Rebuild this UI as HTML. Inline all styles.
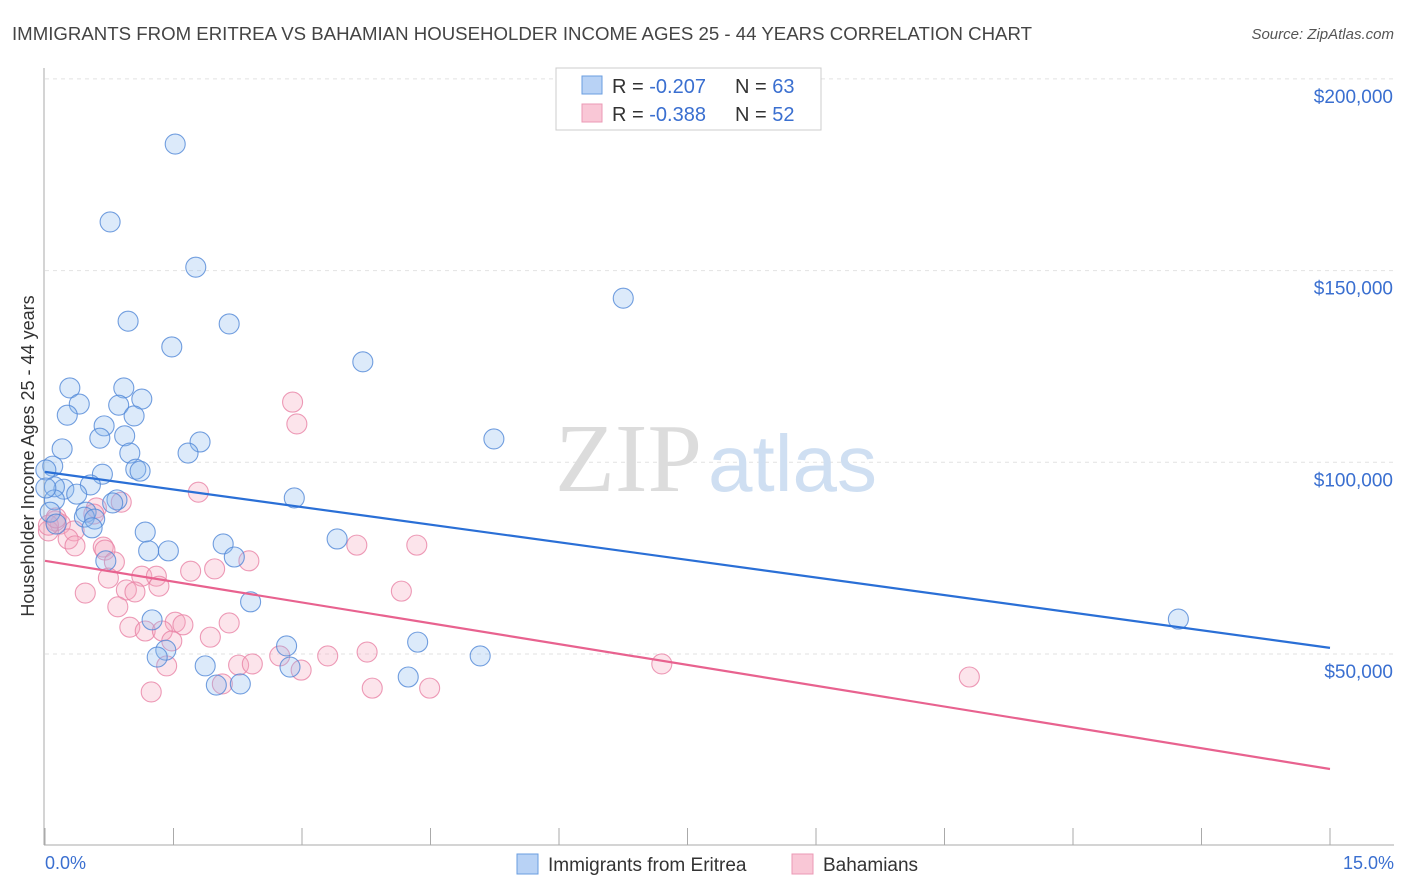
<!DOCTYPE html>
<html><head><meta charset="utf-8"><style>
body{margin:0;background:#fff;font-family:"Liberation Sans",sans-serif;}
svg{display:block}
</style></head><body>
<svg width="1406" height="892" xmlns="http://www.w3.org/2000/svg">
<text x="12" y="40" font-size="18" fill="#444" textLength="1020" lengthAdjust="spacingAndGlyphs">IMMIGRANTS FROM ERITREA VS BAHAMIAN HOUSEHOLDER INCOME AGES 25 - 44 YEARS CORRELATION CHART</text>
<text x="1394" y="39" font-size="15" fill="#555" text-anchor="end" font-style="italic">Source: ZipAtlas.com</text>
<g id="grid"></g>
<text x="555" y="491" font-size="98" fill="#ddd" font-family="Liberation Serif,serif"><tspan fill="#dcdcdc">ZIP</tspan><tspan fill="#cfdff2" font-family="Liberation Sans,sans-serif" font-size="80" dx="6">atlas</tspan></text>
<line x1="44" y1="68" x2="44" y2="845" stroke="#aaa"/>
<line x1="44" y1="845" x2="1394" y2="845" stroke="#aaa"/>
<text transform="translate(34,456) rotate(-90)" font-size="18" fill="#333" text-anchor="middle">Householder Income Ages 25 - 44 years</text>
<text x="45" y="869" font-size="18" fill="#3a6fd0">0.0%</text>
<text x="1394" y="869" font-size="18" fill="#3a6fd0" text-anchor="end">15.0%</text>
<g id="marks"></g>
<g>
<rect x="556" y="68" width="265" height="62" fill="#fff" stroke="#ccc"/>
<rect x="582" y="76" width="20" height="18" fill="#b8d2f5" stroke="#6a9ee0"/>
<rect x="582" y="104" width="20" height="18" fill="#f9c7d6" stroke="#eb9ab5"/>
<text x="612" y="93" font-size="20" fill="#333">R = <tspan fill="#3a6fd0">-0.207</tspan></text>
<text x="735" y="93" font-size="20" fill="#333">N = <tspan fill="#3a6fd0">63</tspan></text>
<text x="612" y="121" font-size="20" fill="#333">R = <tspan fill="#3a6fd0">-0.388</tspan></text>
<text x="735" y="121" font-size="20" fill="#333">N = <tspan fill="#3a6fd0">52</tspan></text>
</g>
<g>
<rect x="517" y="854" width="21" height="20" fill="#b8d2f5" stroke="#6a9ee0"/>
<text x="548" y="871" font-size="19" fill="#333">Immigrants from Eritrea</text>
<rect x="792" y="854" width="21" height="20" fill="#f9c7d6" stroke="#eb9ab5"/>
<text x="823" y="871" font-size="19" fill="#333">Bahamians</text>
</g>
</svg>
<script>
const yTicks=[50000,100000,150000,200000];
const yTickLabels=["$50,000","$100,000","$150,000","$200,000"];
const blueX=[1.52,.76,1.76,6.75,.97,2.15,1.48,3.71,.29,.92,.40,.86,1.13,.26,1.04,.69,.93,.64,5.24,1.81,.20,1.67,.99,.09,1.06,1.11,.67,.22,.53,.11,.37,2.91,.11,.84,.79,.06,.48,.46,.58,.55,1.17,3.41,2.08,1.21,1.44,2.21,.71,2.40,1.25,2.82,4.35,1.41,1.31,5.08,1.87,2.86,4.24,2.00,2.28,13.23,.01,.01,.13];
const blueY=[183.0,162.7,150.9,142.8,136.8,136.1,130.1,126.2,119.4,119.4,115.2,114.9,116.5,112.3,112.1,109.5,106.9,106.3,106.1,105.3,103.5,102.4,102.4,99.0,98.2,97.7,96.9,93.0,94.1,93.6,91.7,90.7,90.2,90.2,89.4,87.0,87.0,85.7,85.2,82.9,81.8,80.0,78.7,76.9,76.9,75.3,74.3,63.6,58.9,52.1,53.1,51.0,49.2,49.5,46.9,46.6,44.0,41.9,42.2,59.1,98.0,93.3,83.9];
const pinkX=[2.89,2.94,1.79,.89,.60,.57,.18,.12,.04,.34,.27,.35,.68,.70,3.64,4.34,.81,2.38,1.98,1.70,.74,1.13,1.30,1.33,4.16,.47,.95,1.05,.85,2.15,1.52,1.61,.99,1.17,1.37,1.48,1.93,2.74,3.30,3.76,2.26,2.42,1.42,2.99,7.20,10.79,1.24,3.82,4.49,2.07,.04,.13];
const pinkY=[115.7,110.0,92.2,89.6,88.1,86.5,83.9,84.7,82.1,82.1,80.0,78.2,77.9,77.1,78.4,78.4,74.0,74.3,72.2,71.6,69.8,70.3,70.3,67.7,66.4,65.9,66.7,66.2,62.3,58.1,58.3,57.6,57.0,56.0,56.0,53.4,54.4,49.5,49.5,50.5,47.1,47.4,46.9,45.8,47.4,44.0,40.1,41.1,41.1,42.2,83.6,85.5];
const blueTrend=[97.5,51.6];
const pinkTrend=[74.3,20.0];
const NS="http://www.w3.org/2000/svg";
function sx(p){return 45+p/15*1285;}
function sy(k){return 654-(k-50)*191.7/50;}
const grid=document.getElementById('grid'),marks=document.getElementById('marks');
function mk(tag,attrs,parent){const e=document.createElementNS(NS,tag);for(const k in attrs)e.setAttribute(k,attrs[k]);parent.appendChild(e);return e;}
yTicks.forEach((v,i)=>{
 const y=sy(v/1000);
 const l=mk('line',{x1:45,x2:1394,y1:y,y2:y,stroke:'#e2e2e2','stroke-dasharray':'4,4'},grid);
 
 
 const t=mk('text',{x:1393,y:y+24,'font-size':19,fill:'#3a6fd0','text-anchor':'end'},grid);
 t.textContent=yTickLabels[i];
 
 
});
for(let i=0;i<=10;i++){
 const x=sx(i*1.5);
 const l=mk('line',{x1:x,x2:x,y1:828,y2:845,stroke:'#aaa'},grid);
 
 
}
function pts(X,Y,fill,stroke,name){
 X.forEach((x,i)=>{
  const c=mk('circle',{cx:sx(x),cy:sy(Y[i]),r:10,fill:fill,stroke:stroke,'stroke-width':1.1},marks);
  
  
 });
}
pts(pinkX,pinkY,'rgba(245,165,190,0.3)','rgba(232,130,165,0.8)','bahamians-point');
pts(blueX,blueY,'rgba(140,185,240,0.3)','rgba(80,135,215,0.8)','eritrea-point');
const tb=mk('line',{x1:sx(0),y1:sy(blueTrend[0]),x2:sx(15),y2:sy(blueTrend[1]),stroke:'#2a6fd6','stroke-width':2.2},marks);


const tp=mk('line',{x1:sx(0),y1:sy(pinkTrend[0]),x2:sx(15),y2:sy(pinkTrend[1]),stroke:'#e8628f','stroke-width':2.2},marks);


</script>
</body></html>
